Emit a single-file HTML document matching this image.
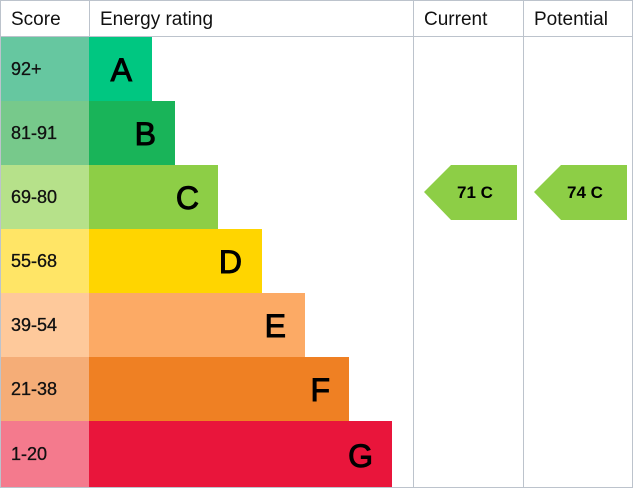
<!DOCTYPE html><html><head><style>body{margin:0;background:#fff}svg{display:block}text{font-family:"Liberation Sans",sans-serif}</style></head><body>
<svg width="633" height="488" xmlns="http://www.w3.org/2000/svg">
<rect x="0.5" y="0.5" width="632" height="487" fill="#fff" stroke="#bcc3cc"/>
<line x1="0" y1="36.5" x2="633" y2="36.5" stroke="#bcc3cc"/>
<line x1="89.5" y1="0" x2="89.5" y2="36" stroke="#bcc3cc"/>
<line x1="413.5" y1="0" x2="413.5" y2="488" stroke="#bcc3cc"/>
<line x1="523.5" y1="0" x2="523.5" y2="488" stroke="#bcc3cc"/>
<g font-size="19" fill="#111">
<text x="11" y="25">Score</text><text x="100" y="25">Energy rating</text>
<text x="424" y="25">Current</text><text x="534" y="25">Potential</text>
</g>
<g>
<rect x="1" y="37" width="88" height="64" fill="#66c7a0"/><rect x="89" y="37" width="63" height="64" fill="#00c781"/>
<rect x="1" y="101" width="88" height="64" fill="#77c98b"/><rect x="89" y="101" width="86" height="64" fill="#19b459"/>
<rect x="1" y="165" width="88" height="64" fill="#b6e18a"/><rect x="89" y="165" width="129" height="64" fill="#8dce46"/>
<rect x="1" y="229" width="88" height="64" fill="#ffe566"/><rect x="89" y="229" width="173" height="64" fill="#ffd500"/>
<rect x="1" y="293" width="88" height="64" fill="#fec99b"/><rect x="89" y="293" width="216" height="64" fill="#fcaa65"/>
<rect x="1" y="357" width="88" height="64" fill="#f5ad77"/><rect x="89" y="357" width="260" height="64" fill="#ef8023"/>
<rect x="1" y="421" width="88" height="66" fill="#f47a8d"/><rect x="89" y="421" width="303" height="66" fill="#e9153b"/>
</g>
<g font-size="18" fill="#111" stroke="#111" stroke-width="0.3">
<text x="11" y="75">92+</text><text x="11" y="139">81-91</text><text x="11" y="203">69-80</text>
<text x="11" y="267">55-68</text><text x="11" y="331">39-54</text><text x="11" y="395">21-38</text><text x="11" y="460">1-20</text>
</g>
<g font-size="32" fill="#000" text-anchor="end" stroke="#000" stroke-width="1">
<text x="132" y="81">A</text><text x="156" y="145">B</text><text x="199" y="209">C</text>
<text x="242" y="273">D</text><text x="286" y="337">E</text><text x="330" y="401">F</text><text x="373" y="467">G</text>
</g>
<polygon points="424,192 451,165 517,165 517,220 451,220" fill="#8dce46"/>
<polygon points="534,192 561,165 627,165 627,220 561,220" fill="#8dce46"/>
<g font-size="17" font-weight="bold" fill="#000">
<text x="457" y="198">71 C</text><text x="567" y="198">74 C</text>
</g>
</svg></body></html>
